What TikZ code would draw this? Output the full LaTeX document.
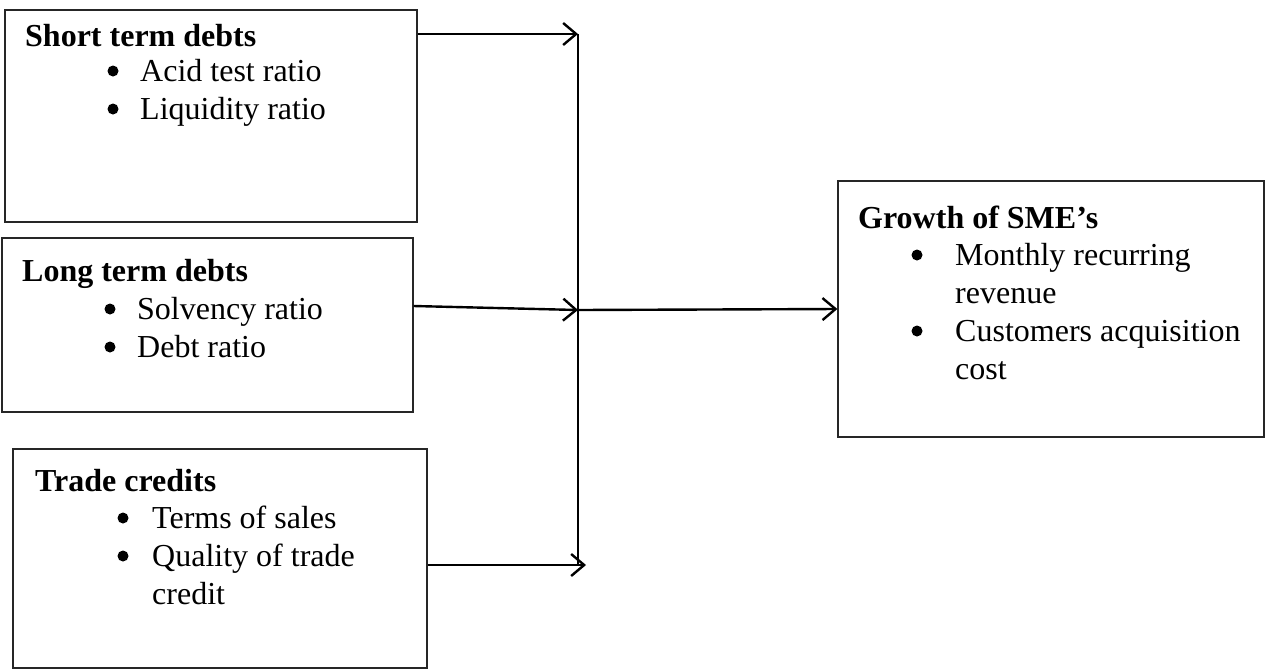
\documentclass[tikz,border=0pt]{standalone}
\usepackage{fontspec}
\setmainfont{Liberation Serif}
\usetikzlibrary{arrows.meta}
\tikzset{box node/.style={draw=black!85, line width=1.3pt, inner sep=0pt},
head text/.style={anchor=base west, inner sep=0pt, font=\fontsize{32}{38}\selectfont\bfseries},
item text/.style={anchor=base west, inner sep=0pt, font=\fontsize{32}{38}\selectfont},
item dot/.style={circle, fill, inner sep=0pt, minimum size=11pt},
flow/.style={line width=2.4pt, -{Straight Barb[length=13pt,width=22pt,line width=2.4pt]}},}

\begin{document}
\begin{tikzpicture}[x=1pt, y=-1pt]
\useasboundingbox (0,0) rectangle (1265,670);
% boxes
\node [box node, minimum width=412pt, minimum height=212pt] (short) at (211,116) {};
\node [box node, minimum width=411pt, minimum height=174pt] (long) at (207.5,325) {};
\node [box node, minimum width=414pt, minimum height=219pt] (trade) at (220,558.5) {};
\node [box node, minimum width=426pt, minimum height=256pt] (growth) at (1051,309) {};
% short term debts
\node [head text] (shorth) at (25,46) {Short term debts};
\node [item dot] (short1d) at (113,71) {};
\node [item text] (short1) at (140,81) {Acid test ratio};
\node [item dot] (short2d) at (113,109) {};
\node [item text] (short2) at (140,119) {Liquidity ratio};
% long term debts
\node [head text] (longh) at (22,281) {Long term debts};
\node [item dot] (long1d) at (110,309) {};
\node [item text] (long1) at (137,319) {Solvency ratio};
\node [item dot] (long2d) at (110,347) {};
\node [item text] (long2) at (137,357) {Debt ratio};
% trade credits
\node [head text] (tradeh) at (35,491) {Trade credits};
\node [item dot] (trade1d) at (123,518) {};
\node [item text] (trade1) at (152,528) {Terms of sales};
\node [item dot] (trade2d) at (123,556) {};
\node [item text] (trade2) at (152,566) {Quality of trade};
\node [item text] (trade3) at (152,604) {credit};
% growth of SMEs
\node [head text] (growthh) at (858,228) {Growth of SME’s};
\node [item dot] (growth1d) at (917,255) {};
\node [item text] (growth1) at (955,265) {Monthly recurring};
\node [item text] (growth1b) at (955,303) {revenue};
\node [item dot] (growth2d) at (917,331) {};
\node [item text] (growth2) at (955,341) {Customers acquisition};
\node [item text] (growth2b) at (955,379) {cost};
% connectors
\coordinate (jtop) at (578,34);
\coordinate (jmid) at (578,310);
\coordinate (jbot) at (578,565);
\coordinate (jend) at (586,565);
\draw [flow] (jtop -| short.east) -- (jtop);
\draw [flow] (long.east |- 0,306) -- (jmid);
\draw [flow] (jbot -| trade.east) -- (jend);
\draw [line width=2.4pt] (jtop) -- (jbot);
\draw [flow] (jmid) -- (growth.west);
\end{tikzpicture}
\end{document}
